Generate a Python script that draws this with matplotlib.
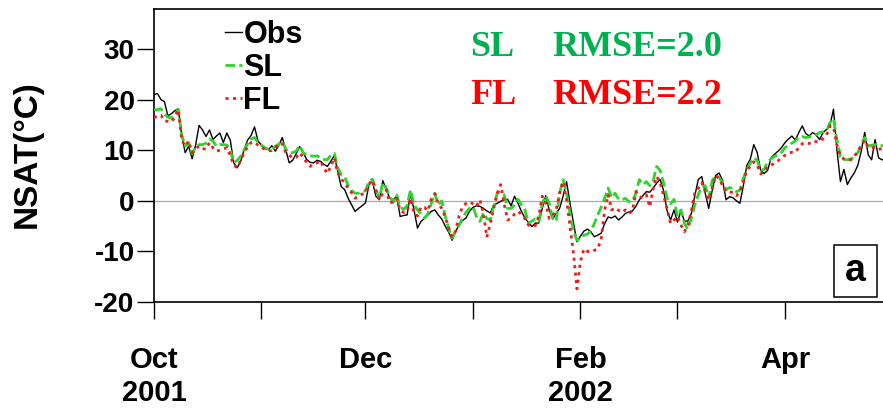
import numpy as np
import matplotlib
matplotlib.use("Agg")
import matplotlib.pyplot as plt
from matplotlib.patches import Rectangle

plt.rcParams['font.family'] = ['Liberation Sans', 'DejaVu Sans']
plt.rcParams['font.weight'] = 'bold'
plt.rcParams['axes.unicode_minus'] = False

# daily near-surface air temperature, 1 Oct 2001 - 30 Apr 2002
days = np.arange('2001-10-01', '2002-05-01', dtype='datetime64[D]')

obs = [
    21.0, 21.2, 20.0, 19.6, 16.8, 17.2, 17.8, 18.2, 13.0, 9.5,
    10.8, 8.3, 11.0, 14.9, 14.0, 12.7, 14.0, 12.1, 12.8, 13.4,
    11.5, 13.4, 12.0, 7.5, 6.5, 7.8, 10.1, 12.0, 12.9, 14.6,
    11.8, 11.0, 10.3, 10.1, 10.9, 9.8, 11.0, 12.5, 10.1, 7.5,
    8.0, 9.3, 10.7, 9.6, 8.2, 7.6, 7.5, 8.0, 7.8, 7.2,
    6.8, 7.8, 8.9, 5.8, 2.8, 2.2, 0.5, -0.8, -2.1, -1.5,
    -1.0, -0.4, 3.2, 3.8, 0.9, 0.2, 4.0, 2.2, 0.5, 0.2,
    0.9, -3.1, -2.9, -2.8, 1.5, -1.8, -5.4, -4.1, -3.5, -2.8,
    -2.1, -1.8, -2.8, -3.6, -5.0, -6.2, -7.8, -6.0, -4.8, -3.9,
    -3.4, -2.1, -1.3, -1.0, -1.1, -1.5, -2.0, -2.4, -0.8, -0.5,
    -0.1, 0.2, 0.3, -1.0, 0.9, -0.5, -2.1, -3.4, -4.3, -5.1,
    -4.4, -4.4, -1.5, 1.0, -1.8, -3.6, -2.5, -1.5, 0.9, 3.8,
    -0.5, -4.4, -8.1, -7.0, -6.0, -5.6, -6.1, -7.1, -6.8, -6.4,
    -4.5, -3.2, -3.4, -3.0, -3.8, -3.2, -2.5, -2.2, -2.0, -1.1,
    0.2, 1.0, 1.8, 1.7, 2.5, 3.5, 4.2, 2.0, -2.0, -3.8,
    -1.8, -4.2, -2.0, -4.0, -4.0, -2.5, 1.0, 4.2, 4.8, 1.5,
    -1.5, 2.0, 5.0, 5.5, 4.0, 0.2, 0.8, 0.6, 0.0, -0.5,
    3.0, 7.0, 8.2, 11.1, 9.5, 6.0, 5.4, 6.0, 8.5, 9.2,
    9.8, 10.5, 11.5, 12.2, 12.8, 12.0, 13.5, 14.8, 13.3, 12.8,
    13.5, 13.0, 12.1, 13.5, 14.1, 15.0, 18.1, 10.0, 3.8, 6.2,
    3.2, 4.5, 5.5, 7.0, 9.8, 13.5, 9.1, 8.1, 12.1, 8.5,
    8.1, 8.1,
]

sl = [
    18.0, 18.0, 18.2, 17.2, 16.5, 16.4, 17.0, 18.1, 13.0, 10.8,
    11.5, 9.3, 10.5, 11.1, 11.1, 11.4, 12.2, 11.8, 10.8, 11.1,
    11.1, 11.0, 10.0, 7.5, 8.0, 8.8, 10.0, 11.2, 12.2, 12.5,
    11.5, 11.0, 10.5, 10.2, 10.1, 10.8, 11.2, 11.8, 10.2, 9.5,
    9.5, 9.8, 10.9, 9.5, 9.1, 8.9, 8.8, 8.9, 8.5, 8.2,
    8.1, 9.0, 9.4, 6.5, 5.2, 4.8, 3.0, 2.0, 1.5, 1.5,
    1.8, 2.0, 3.8, 4.3, 2.2, 0.5, 3.6, 2.5, 0.8, -0.3,
    1.2, -1.2, -1.7, -1.0, 2.2, -0.8, -1.8, -2.6, -3.4, -2.6,
    -0.5, 1.5, -0.8, 0.0, -3.0, -5.5, -7.4, -6.0, -4.8, -3.4,
    -2.3, -1.5, -1.2, -3.1, -4.1, -2.4, -3.5, -3.8, -1.1, 1.5,
    1.8, 1.2, -1.5, -1.5, -0.8, 0.3, -0.8, -1.8, -4.5, -4.0,
    -3.6, -4.1, -0.5, 1.0, -0.5, -3.5, -4.0, 1.5, 4.2, 1.5,
    -2.5, -6.0, -7.8, -7.4, -6.8, -6.6, -6.0, -4.5, -2.8, -1.2,
    0.5, 2.5, 0.6, 1.5, 0.3, 0.2, 0.5, -0.2, 0.0, 1.5,
    4.2, 3.2, 3.8, 3.0, 4.0, 6.8, 6.0, 3.5, 0.5, -0.6,
    0.3, -3.1, -1.8, -4.5, -5.6, -3.5, -0.8, 1.2, 2.8, 3.0,
    0.5, 4.0, 5.0, 4.6, 3.5, 2.2, 2.6, 2.5, 1.8, 2.1,
    4.5, 6.2, 7.4, 8.5, 8.0, 6.0, 6.2, 7.7, 8.3, 8.8,
    9.0, 9.6, 10.5, 11.0, 11.4, 11.8, 12.6, 12.7, 12.5, 12.6,
    12.8, 13.1, 13.5, 13.6, 13.8, 15.5, 16.2, 12.0, 8.7, 8.2,
    8.1, 8.3, 8.5, 9.5, 11.0, 12.5, 10.8, 11.0, 11.1, 10.8,
    10.9, 10.9,
]

fl = [
    16.4, 16.8, 16.9, 15.8, 15.7, 15.6, 16.5, 18.0, 12.0, 10.8,
    11.8, 9.5, 10.3, 10.8, 10.3, 10.2, 11.5, 10.5, 9.8, 10.0,
    10.2, 10.5, 9.0, 7.0, 6.6, 8.0, 9.5, 10.7, 11.5, 11.6,
    11.0, 10.6, 10.1, 9.9, 9.9, 10.5, 11.2, 11.3, 9.6, 9.0,
    8.5, 8.6, 9.5, 8.6, 7.6, 6.8, 7.3, 7.5, 7.9, 6.5,
    5.4, 6.8, 8.5, 5.5, 4.2, 3.7, 2.4, 1.6, 0.5, 1.0,
    1.3, 1.5, 3.3, 4.1, 2.0, 0.2, 1.5, 2.2, -0.4, -0.2,
    0.5, -1.8, -2.3, -2.2, 0.5, -2.4, -3.0, -1.2, -1.3, -2.0,
    0.4, 1.4, -0.6, -1.5, -3.2, -5.3, -7.1, -6.0, -3.0, -1.2,
    -0.5, -0.2, -0.6, -1.1, 0.2, -2.4, -7.2, -4.5, -1.5, 1.5,
    3.2, -0.6, -3.8, -3.5, -2.6, -2.1, -2.7, -3.5, -4.8, -5.0,
    -4.9, -3.0, 0.9, -0.4, -3.5, -3.0, -1.8, 1.5, 3.8, 0.2,
    -5.1, -10.4, -17.4, -12.0, -9.5, -10.0, -10.1, -9.8, -9.5, -7.5,
    -1.8, 1.2, -1.8, -1.4, -1.9, -2.3, -1.8, -2.5, -2.0, 1.8,
    0.8, 0.6, 1.2, -1.2, 2.5, 4.8, 3.6, 1.0, -1.6, -4.5,
    -3.8, -3.1, -4.8, -6.1, -4.8, -2.0, 1.5, 2.5, 3.6, 1.8,
    0.2, 2.4, 5.0, 4.3, 3.0, 1.8, 1.8, 1.6, 1.0, 1.8,
    3.8, 6.0, 6.8, 7.7, 7.0, 5.3, 5.8, 6.8, 7.0, 7.5,
    7.9, 8.5, 9.0, 9.4, 9.6, 9.6, 10.5, 11.3, 11.5, 11.3,
    11.8, 11.7, 11.7, 12.3, 13.0, 14.8, 14.5, 11.0, 9.0, 8.2,
    8.1, 8.1, 8.8, 9.8, 10.8, 12.0, 10.6, 10.5, 10.6, 10.2,
    10.3, 10.3,
]

month_ticks = np.array(['2001-10-01', '2001-11-01', '2001-12-01', '2002-01-01',
                        '2002-02-01', '2002-03-01', '2002-04-01'], dtype='datetime64[D]')
month_labels = ['Oct\n2001', '', 'Dec', '', 'Feb\n2002', '', 'Apr']
y_ticks = [-20, -10, 0, 10, 20, 30]

rmse_names = ['SL', 'FL']
rmse_values = [2.0, 2.2]
rmse_colors = ['#00b050', '#ff0000']

fig = plt.figure(figsize=(8.83, 4.09), dpi=100)
ax = fig.add_axes([154 / 883, 107 / 409, 731.5 / 883, 293 / 409])

ax.axhline(0, color='#aaaaaa', lw=0.9, zorder=1)
l_obs, = ax.plot(days, obs, color='black', lw=1.0, label='Obs', zorder=3)
l_sl, = ax.plot(days, sl, color='#2ed42e', lw=2.0, dashes=(3.5, 1.5), label='SL', zorder=4)
l_fl, = ax.plot(days, fl, color='#ee1c1c', lw=2.0, dashes=(1.1, 1.6), label='FL', zorder=5)

ax.set_xlim(days[0], days[-1])
ax.set_ylim(-20, 37.9)
ax.set_yticks(y_ticks)
ax.set_xticks(month_ticks)
ax.set_xticklabels(month_labels, fontsize=21, fontweight='bold', linespacing=1.25)
ax.tick_params(axis='x', direction='out', length=12.5, width=1.0, pad=19)
ax.tick_params(axis='y', direction='out', length=12.5, width=1.0, pad=1.5, labelsize=20)
for s in ax.spines.values():
    s.set_linewidth(1.2)

ax.set_ylabel('NSAT(°C)', fontsize=24, fontweight='bold')
ax.yaxis.set_label_coords(-0.152, 0.505)

ax.legend(handles=[l_obs, l_sl, l_fl], loc='upper left',
          bbox_to_anchor=(225 / 883, 1 - 20 / 409), bbox_transform=fig.transFigure,
          frameon=False, prop={'weight': 'bold', 'size': 22},
          handlelength=0.55, handletextpad=0.05, labelspacing=0.1,
          borderpad=0, borderaxespad=0)

# RMSE annotations
for i, (name, val, col) in enumerate(zip(rmse_names, rmse_values, rmse_colors)):
    yy = 1 - (48 + 47 * i) / 409
    fig.text(470 / 883, yy, name, color=col, fontsize=26, fontweight='bold',
             family='Liberation Serif', va='center')
    fig.text(552 / 883, yy, 'RMSE=%.1f' % val, color=col, fontsize=26,
             fontweight='bold', family='Liberation Serif', va='center')

# panel label
ax.add_patch(Rectangle((0.9296, 0.017), 0.0588, 0.1775, transform=ax.transAxes,
                       fill=False, lw=1.1, ec='black', zorder=6))
ax.text(0.9296 + 0.0294, 0.017 + 0.0887, 'a', transform=ax.transAxes,
        ha='center', va='center', fontsize=27, fontweight='bold', zorder=7)

fig.savefig('out.png', dpi=100)
